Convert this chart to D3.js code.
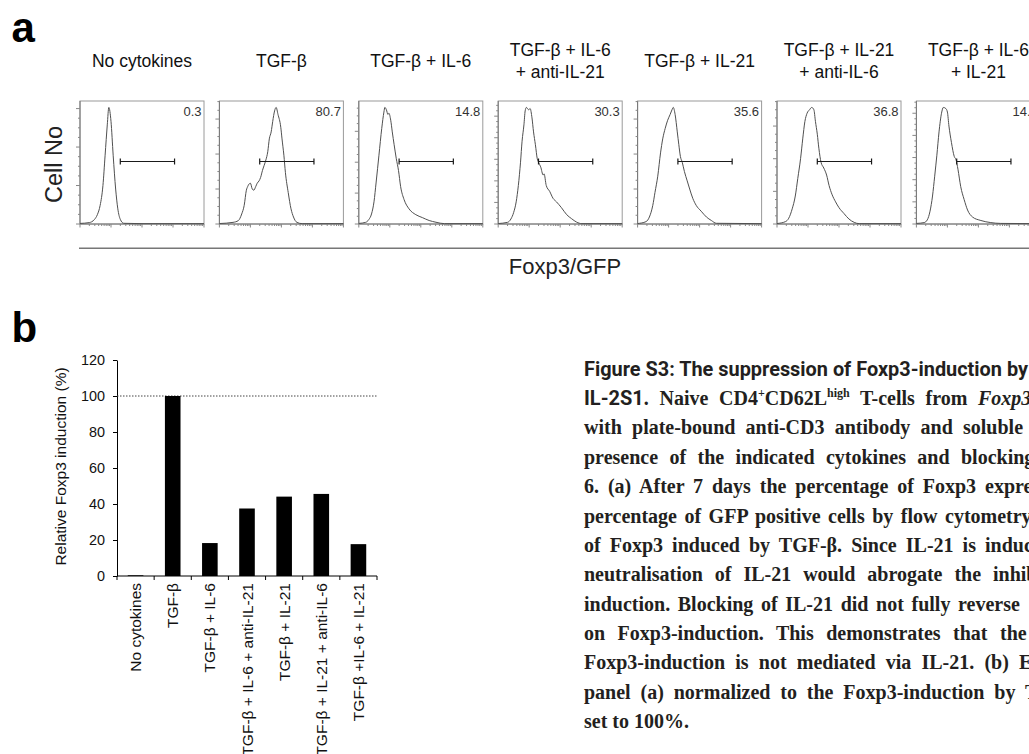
<!DOCTYPE html>
<html>
<head>
<meta charset="utf-8">
<script src="https://cdn.jsdelivr.net/npm/d3@7"></script>
<style>
  body { margin: 0; background: #fff; overflow: hidden; }
  svg { display: block; font-family: "Liberation Sans", Arial, sans-serif; }
</style>
</head>
<body>
<svg id="fig" width="1029" height="754"></svg>
<script>
// ---- panel a : flow histograms ----
const conditions = [
  ["No cytokines"],
  ["TGF-β"],
  ["TGF-β + IL-6"],
  ["TGF-β + IL-6", "+ anti-IL-21"],
  ["TGF-β + IL-21"],
  ["TGF-β + IL-21", "+ anti-IL-6"],
  ["TGF-β + IL-6", "+ IL-21"],
];
const gatePercent = ["0.3", "80.7", "14.8", "30.3", "35.6", "36.8", "14.3"];
const gateRange = [1.3, 3.05]; // log decades
const yTickStep = [33, 30, 26.5, 18.5, 30, 28, 19]; // % of mode

// [log decade, % of mode]
const histNone = [[0, 0.5], [0.3, 1.2], [0.46, 3.7], [0.56, 8], [0.65, 16], [0.74, 33], [0.81, 59], [0.88, 85], [0.93, 100], [1.0, 88], [1.07, 59], [1.15, 30], [1.22, 13], [1.3, 4], [1.41, 0.6], [2, 0.3], [4, 0.3]];
const histTgf = [[0, 0.4], [0.44, 1.4], [0.61, 2.9], [0.72, 8.6], [0.8, 16], [0.87, 29], [0.91, 32], [1.0, 35], [1.06, 30], [1.11, 29], [1.17, 32], [1.22, 35], [1.28, 37], [1.33, 40], [1.39, 46], [1.44, 50], [1.5, 55], [1.56, 62], [1.61, 73], [1.67, 79], [1.72, 88], [1.78, 97], [1.83, 100], [1.89, 94], [1.98, 83], [2.02, 73], [2.08, 59], [2.13, 44], [2.22, 27], [2.31, 13], [2.39, 6], [2.5, 1.4], [2.67, 0.3], [4, 0.3]];
const histIl6 = [[0, 0.5], [0.22, 1.4], [0.32, 3.7], [0.41, 8.6], [0.49, 19], [0.56, 36], [0.65, 59], [0.74, 82], [0.81, 96], [0.84, 100], [0.89, 98], [0.94, 94], [0.97, 95], [1.03, 89], [1.08, 79], [1.14, 68], [1.21, 56], [1.28, 46], [1.35, 32], [1.46, 21], [1.62, 13], [1.84, 8], [2.05, 5.5], [2.27, 3], [2.49, 1.5], [2.76, 0.3], [4, 0.3]];
const histIl6Anti21 = [[0, 0.4], [0.3, 1.4], [0.41, 4.3], [0.5, 10], [0.58, 19], [0.65, 33], [0.72, 53], [0.77, 71], [0.83, 85], [0.87, 97], [0.91, 100], [0.98, 98], [1.03, 99], [1.09, 91], [1.14, 79], [1.2, 68], [1.26, 56], [1.3, 53], [1.37, 49], [1.45, 42], [1.48, 43], [1.55, 33], [1.66, 28], [1.77, 22], [1.88, 19], [2.04, 14], [2.21, 8], [2.37, 4.5], [2.53, 1.6], [2.7, 0.3], [4, 0.3]];
const histIl21 = [[0, 0.4], [0.27, 2], [0.38, 6], [0.49, 16], [0.56, 27], [0.65, 41], [0.74, 61], [0.81, 73], [0.89, 82], [0.97, 89], [1.05, 94], [1.11, 98], [1.15, 100], [1.21, 94], [1.28, 79], [1.33, 68], [1.38, 58], [1.44, 53], [1.51, 45], [1.6, 37], [1.68, 30], [1.78, 22], [1.89, 16], [2.05, 11], [2.22, 6], [2.38, 3], [2.54, 0.6], [4, 0.3]];
const histIl21Anti6 = [[0, 0.4], [0.27, 2], [0.38, 5], [0.49, 13], [0.59, 24], [0.67, 39], [0.76, 56], [0.83, 73], [0.9, 88], [0.97, 95], [1.05, 98], [1.12, 100], [1.19, 98], [1.24, 88], [1.3, 77], [1.35, 65], [1.42, 53], [1.51, 48], [1.6, 42], [1.68, 33], [1.78, 25], [1.89, 19], [2.0, 14], [2.16, 9], [2.32, 4.3], [2.49, 1.4], [2.65, 0.3], [4, 0.3]];
const histIl6Il21 = [[0, 0.5], [0.25, 1.2], [0.35, 3.5], [0.44, 11], [0.52, 24], [0.59, 41], [0.66, 59], [0.73, 79], [0.81, 95], [0.87, 100], [0.95, 99], [1.0, 96], [1.05, 84], [1.13, 70], [1.22, 58], [1.28, 55], [1.34, 47], [1.43, 32], [1.54, 21], [1.65, 12], [1.81, 6], [2.08, 3], [2.4, 1.2], [2.72, 0.5], [4, 0.3]];
const histograms = [histNone, histTgf, histIl6, histIl6Anti21, histIl21, histIl21Anti6, histIl6Il21];

// ---- panel b : bar chart ----
const barCategories = [
  "No cytokines",
  "TGF-β",
  "TGF-β + IL-6",
  "TGF-β + IL-6 + anti-IL-21",
  "TGF-β + IL-21",
  "TGF-β + IL-21 + anti-IL-6",
  "TGF-β +IL-6 + IL-21",
];
const barValues = [0.4, 100, 18.3, 37.5, 44.1, 45.6, 17.7];
const barTicks = [0, 20, 40, 60, 80, 100, 120];
const referenceLevel = 100;

// ---- caption ----
const captionLines = [
  [["Figure S3: The suppression of Foxp3-induction by", "head"]],
  [["IL-2S1", "head"], [". Naive CD4", ""], ["+", "sup"], ["CD62L", ""], ["high", "sup"], [" T-cells from ", ""], ["Foxp3", "it"]],
  [["with plate-bound anti-CD3 antibody and soluble", ""]],
  [["presence of the indicated cytokines and blocking", ""]],
  [["6. (a) After 7 days the percentage of Foxp3 expression", ""]],
  [["percentage of GFP positive cells by flow cytometry.", ""]],
  [["of Foxp3 induced by TGF-β. Since IL-21 is induced", ""]],
  [["neutralisation of IL-21 would abrogate the inhibitory", ""]],
  [["induction. Blocking of IL-21 did not fully reverse", ""]],
  [["on Foxp3-induction. This demonstrates that the", ""]],
  [["Foxp3-induction is not mediated via IL-21. (b) E", ""]],
  [["panel (a) normalized to the Foxp3-induction by TGF-β", ""]],
  [["set to 100%.", ""]],
];
// x where the last word of each justified line begins
const lastWordX = [null, 978, 963, 961, 985, 945, 985, 993, 958, 1000, 1019, 1025, null];

const svg = d3.select("#fig");

// panel letters
svg.append("text").attr("x", 11.5).attr("y", 41.5)
  .style("font-size", "42px").style("font-weight", "bold").text("a");
svg.append("text").attr("x", 11.5).attr("y", 341.5)
  .style("font-size", "42px").style("font-weight", "bold").text("b");

// histograms
let pw = 124, ph = 123, pTop = 101;
let pLeft0 = 80, pStep = 139.4;
let logTicks = d3.scaleLog().domain([1, 1e4]).ticks();

conditions.forEach((title, i) => {
  let left = pLeft0 + i * pStep;
  let x = d3.scaleLinear().domain([0, 4]).range([left, left + pw]);
  let y = d3.scaleLinear().domain([0, 105.5]).range([pTop + ph, pTop]);
  let g = svg.append("g");

  g.selectAll(".title")
    .data(title)
    .join("text")
    .attr("x", left + pw / 2)
    .attr("y", (d, j) => (title.length == 1 ? 66.5 : 56 + j * 21.5))
    .attr("text-anchor", "middle")
    .style("font-size", "17.5px")
    .style("fill", "#111")
    .text((d) => d);

  g.append("rect")
    .attr("x", left).attr("y", pTop)
    .attr("width", pw).attr("height", ph)
    .style("fill", "none").style("stroke", "#9a9a9a");
  g.append("path")
    .attr("d", `M${left},${pTop}V${pTop + ph}H${left + pw}`)
    .style("fill", "none").style("stroke", "#777");

  // y ticks (major + 3 minor)
  let yt = d3.range(0, 105.5, yTickStep[i] / 4);
  g.selectAll(".ytick")
    .data(yt)
    .join("line")
    .attr("x1", left)
    .attr("x2", (d, j) => left - (j % 4 == 0 ? 4 : 2))
    .attr("y1", (d) => y(d))
    .attr("y2", (d) => y(d))
    .style("stroke", "#888");

  // x log ticks
  g.selectAll(".xtick")
    .data(logTicks)
    .join("line")
    .attr("x1", (d) => x(Math.log10(d)))
    .attr("x2", (d) => x(Math.log10(d)))
    .attr("y1", pTop + ph)
    .attr("y2", (d) => pTop + ph + (Number.isInteger(Math.log10(d)) ? 3.5 : 2))
    .style("stroke", "#888");

  let line = d3.line()
    .x((d) => x(d[0]))
    .y((d) => y(d[1]))
    .curve(d3.curveMonotoneX);
  g.append("path")
    .datum(histograms[i])
    .attr("d", line)
    .style("fill", "none")
    .style("stroke", "#505050")
    .style("stroke-width", 1);

  // gate
  let gy = 161.5;
  g.append("path")
    .attr("d", `M${x(gateRange[0])},${gy - 3}v6M${x(gateRange[0])},${gy}H${x(gateRange[1])}M${x(gateRange[1])},${gy - 3}v6`)
    .style("fill", "none").style("stroke", "#1a1a1a").style("stroke-width", 1.2);

  g.append("text")
    .attr("x", left + pw - 2.5)
    .attr("y", 116)
    .attr("text-anchor", "end")
    .style("font-size", "13px")
    .style("fill", "#333")
    .text(gatePercent[i]);
});

svg.append("text")
  .attr("transform", "translate(62,164.5) rotate(-90)")
  .attr("text-anchor", "middle")
  .style("font-size", "23.5px")
  .style("fill", "#222")
  .text("Cell No");

svg.append("line")
  .attr("x1", 79).attr("x2", 1029)
  .attr("y1", 248.3).attr("y2", 248.3)
  .style("stroke", "#777").style("stroke-width", 1.5);

svg.append("text")
  .attr("x", 565).attr("y", 274)
  .attr("text-anchor", "middle")
  .style("font-size", "22px")
  .style("fill", "#222")
  .text("Foxp3/GFP");

// bar chart
let bx = d3.scaleBand().domain(barCategories).range([117, 377]).paddingInner(0.58).paddingOuter(0.29);
let by = d3.scaleLinear().domain([0, 120]).range([576, 360]);

let yAxis = svg.append("g")
  .attr("transform", "translate(117,0)")
  .call(d3.axisLeft(by).tickValues(barTicks).tickSize(4).tickSizeOuter(0).tickPadding(8));
yAxis.selectAll("text").style("font-size", "14.4px").style("fill", "#111")
  .style("font-family", '"Liberation Sans", Arial, sans-serif');
yAxis.selectAll("line,path").style("stroke", "#000");

svg.append("line")
  .attr("x1", 117).attr("x2", 377)
  .attr("y1", by(referenceLevel)).attr("y2", by(referenceLevel))
  .style("stroke", "#444").style("stroke-dasharray", "1.5,1.5");

svg.selectAll(".bar")
  .data(barValues)
  .join("rect")
  .attr("x", (d, i) => bx(barCategories[i]))
  .attr("y", (d) => by(d))
  .attr("width", bx.bandwidth())
  .attr("height", (d) => by(0) - by(d))
  .style("fill", "#000");

svg.append("line")
  .attr("x1", 117).attr("x2", 377)
  .attr("y1", by(0)).attr("y2", by(0))
  .style("stroke", "#000");

let bounds = barCategories.map((d) => bx(d) - (bx.step() - bx.bandwidth()) / 2);
bounds.push(377);
svg.selectAll(".xb")
  .data(bounds)
  .join("line")
  .attr("x1", (d) => d).attr("x2", (d) => d)
  .attr("y1", by(0)).attr("y2", by(0) + 4)
  .style("stroke", "#000");

svg.selectAll(".cat")
  .data(barCategories)
  .join("text")
  .attr("transform", (d) => `translate(${bx(d) + bx.bandwidth() / 2 + 5.5},583) rotate(-90)`)
  .attr("text-anchor", "end")
  .style("font-size", "15.5px")
  .style("fill", "#111")
  .text((d) => d);

svg.append("text")
  .attr("transform", "translate(65.5,466.5) rotate(-90)")
  .attr("text-anchor", "middle")
  .style("font-size", "15.5px")
  .style("fill", "#111")
  .text("Relative Foxp3 induction (%)");

// caption
let capX = 584, capY0 = 375.7, capLead = 29.36;
captionLines.forEach((segs, i) => {
  let t = svg.append("text")
    .attr("x", capX)
    .attr("y", capY0 + i * capLead)
    .style("font-family", '"Liberation Serif", "Times New Roman", serif')
    .style("font-weight", "bold")
    .style("font-size", "20px")
    .style("fill", "#231f20");
  let prevSup = false;
  segs.forEach(([s, kind]) => {
    let ts = t.append("tspan").text(s);
    if (kind == "head") {
      ts.style("font-family", '"Liberation Sans Narrow", "Roboto", sans-serif').style("font-weight", "bold");
    }
    if (kind == "it") ts.style("font-style", "italic");
    if (kind == "sup") ts.style("font-size", "12px").attr("dy", -8);
    else if (prevSup) ts.attr("dy", 8);
    prevSup = kind == "sup";
  });
  if (i == 0) {
    t.attr("textLength", 444).attr("lengthAdjust", "spacingAndGlyphs");
  } else if (lastWordX[i] != null) {
    let full = segs.map((d) => d[0]).join("");
    let idx = full.lastIndexOf(" ") + 1;
    let nSpaces = full.slice(0, idx).split(" ").length - 1;
    let natural = t.node().getStartPositionOfChar(idx).x;
    t.style("word-spacing", (lastWordX[i] - natural) / nSpaces + "px");
  }
});
</script>
</body>
</html>
